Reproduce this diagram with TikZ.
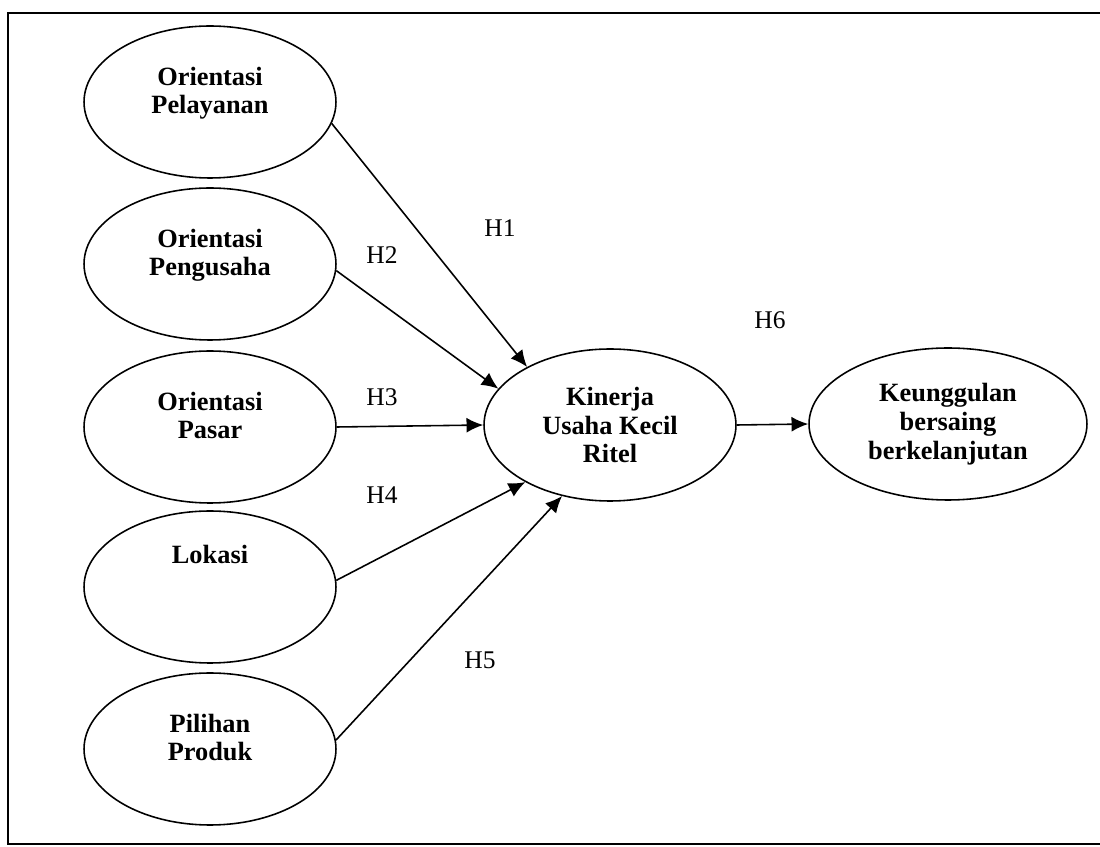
\documentclass[tikz,border=0pt]{standalone}
\usepackage{fontspec}
\setmainfont{Liberation Serif}
\usetikzlibrary{arrows.meta, shapes.geometric}

\begin{document}
\begin{tikzpicture}[
    x=0.02cm, y=-0.02cm,
    var/.style={draw, ellipse, line width=0.9pt, minimum width=5.04cm,
        minimum height=3.04cm, inner sep=0pt, align=center,
        font=\fontsize{15}{16.4}\selectfont\bfseries},
    hyp/.style={font=\fontsize{14.5}{16}\selectfont},
    link/.style={line width=0.9pt, -{Latex[length=9.5pt, width=8.5pt]}}
    ]
    \useasboundingbox (0,0) rectangle (1100,847);
    \draw[line width=1pt] (1100,13) -- (8,13) -- (8,844) -- (1100,844);

    \node[var] (pel) at (210,102) {Orientasi\\Pelayanan\\[-8pt] \strut};
    \node[var] (pen) at (210,264) {Orientasi\\Pengusaha\\[-8pt] \strut};
    \node[var] (pas) at (210,427) {Orientasi\\Pasar\\[-8pt] \strut};
    \node[var] (lok) at (210,587) {Lokasi\\ \strut\\ \strut};
    \node[var] (pil) at (210,749) {Pilihan\\Produk\\[-8pt] \strut};
    \node[var] (kin) at (610,425) {Kinerja\\Usaha Kecil\\Ritel};
    \node[var, minimum width=5.56cm] (keu) at (948,424) {Keunggulan\\bersaing\\berkelanjutan};

    \draw[link] (pel.-10) -- (kin.145);
    \draw[link] (pen.-3) -- (kin.162);
    \draw[link] (pas.east) -- (kin.west);
    \draw[link] (lok.3) -- (kin.214);
    \draw[link] (pil.4) -- (kin.236);
    \draw[link] (kin.east) -- (keu.west);

    \node[hyp] (h1) at (500,228) {H1};
    \node[hyp] (h2) at (382,255) {H2};
    \node[hyp] (h3) at (382,397) {H3};
    \node[hyp] (h4) at (382,495) {H4};
    \node[hyp] (h5) at (480,660) {H5};
    \node[hyp] (h6) at (770,320) {H6};
\end{tikzpicture}
\end{document}
